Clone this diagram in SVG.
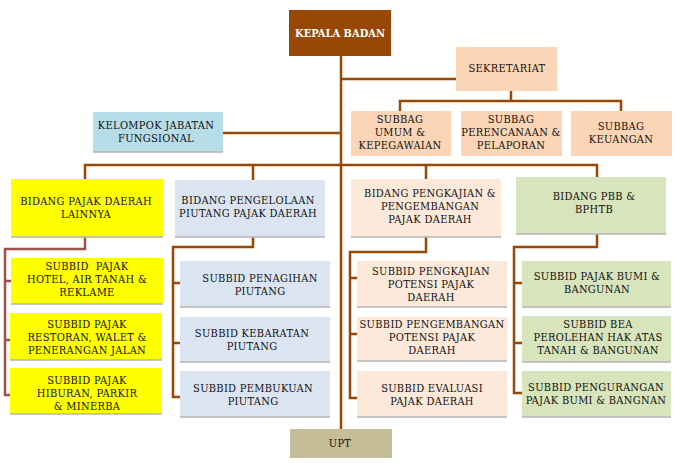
<svg xmlns="http://www.w3.org/2000/svg" width="675" height="463" viewBox="0 0 675 463">
<style>
.t{font-family:"DejaVu Serif Condensed","DejaVu Serif","Liberation Serif",serif;font-size:11px;letter-spacing:0.3px;fill:#111;text-anchor:middle;white-space:pre}
.w{fill:#fff;font-weight:bold;letter-spacing:0}
.c{fill:none;stroke:#974806;stroke-width:2.5}
.cr{fill:none;stroke:#a0504d;stroke-width:2.5}
.sh{fill:none;stroke:#b5b5b5;stroke-width:1.5}
.y{fill:#ffff00}.b{fill:#dbe5f1}.p{fill:#fde9d9}.g{fill:#d7e4bc}.o{fill:#fbd5b5}.k{fill:#b7dde8}.u{fill:#c4bd97}
</style>
<rect width="675" height="463" fill="#fff"/>
<g id="connectors">
<path class="c" d="M341 56V429"/>
<path class="c" d="M341 79H456"/>
<path class="c" d="M223 133H341"/>
<path class="c" d="M511 91V101M400 111V101H621V111"/>
<path class="c" d="M85 179V165H597V177M253 165V180M426 165V179"/>
<path class="cr" d="M85 237V249H5V395H11M5 281H11M5 340H10"/>
<path class="c" d="M253 237V247H173V397H180M173 283H180M173 343H180"/>
<path class="c" d="M426 237V252H350V398H357M350 278H357M350 334H357"/>
<path class="c" d="M597 234V247H514V393H522M514 283H522M514 343H522"/>
</g>
<g id="kepala"><rect x="289" y="10" width="102" height="46" fill="#974706"/><text class="t w" x="340" y="37">KEPALA BADAN</text></g>
<g id="sekretariat"><rect class="o" x="456" y="47" width="101" height="44"/><text class="t" x="507" y="72">SEKRETARIAT</text></g>
<g id="subbag-umum"><rect class="o" x="351" y="111" width="100" height="45"/><text class="t" x="400" y="123">SUBBAG</text><text class="t" x="400" y="136">UMUM &amp;</text><text class="t" x="400" y="149">KEPEGAWAIAN</text></g>
<g id="subbag-perencanaan"><rect class="o" x="461" y="111" width="101" height="45"/><text class="t" x="511" y="123">SUBBAG</text><text class="t" x="511" y="136">PERENCANAAN &amp;</text><text class="t" x="511" y="149">PELAPORAN</text></g>
<g id="subbag-keuangan"><rect class="o" x="571" y="111" width="101" height="45"/><text class="t" x="621" y="130">SUBBAG</text><text class="t" x="621" y="143">KEUANGAN</text></g>
<g id="kelompok"><rect class="k" x="93" y="112" width="130" height="40"/><path class="sh" d="M93 152H223"/><text class="t" x="156" y="129">KELOMPOK JABATAN</text><text class="t" x="156" y="142">FUNGSIONAL</text></g>
<g id="bidang-lainnya"><rect class="y" x="11" y="179" width="152" height="58"/><path class="sh" d="M11 237H163"/><text class="t" x="86" y="205">BIDANG PAJAK DAERAH</text><text class="t" x="86" y="218">LAINNYA</text></g>
<g id="bidang-piutang"><rect class="b" x="175" y="180" width="150" height="57"/><path class="sh" d="M175 237H325"/><text class="t" x="248" y="204">BIDANG PENGELOLAAN</text><text class="t" x="248" y="217">PIUTANG PAJAK DAERAH</text></g>
<g id="bidang-pengkajian"><rect class="p" x="351" y="179" width="150" height="58"/><path class="sh" d="M351 237H501"/><text class="t" x="430" y="197">BIDANG PENGKAJIAN &amp;</text><text class="t" x="430" y="210">PENGEMBANGAN</text><text class="t" x="430" y="223">PAJAK DAERAH</text></g>
<g id="bidang-pbb"><rect class="g" x="516" y="177" width="150" height="57"/><path class="sh" d="M516 234H666"/><text class="t" x="594" y="200">BIDANG PBB &amp;</text><text class="t" x="594" y="213">BPHTB</text></g>
<g id="subbid-hotel"><rect class="y" x="11" y="258" width="152" height="46"/><path class="sh" d="M11 304H163"/><text class="t" x="87" y="270">SUBBID  PAJAK</text><text class="t" x="87" y="283">HOTEL, AIR TANAH &amp;</text><text class="t" x="87" y="296">REKLAME</text></g>
<g id="subbid-restoran"><rect class="y" x="10" y="313" width="152" height="47"/><path class="sh" d="M10 360H162"/><text class="t" x="87" y="328">SUBBID PAJAK</text><text class="t" x="87" y="341">RESTORAN, WALET &amp;</text><text class="t" x="87" y="354">PENERANGAN JALAN</text></g>
<g id="subbid-hiburan"><rect class="y" x="10" y="368" width="152" height="46"/><path class="sh" d="M10 414H162"/><text class="t" x="87" y="384">SUBBID PAJAK</text><text class="t" x="87" y="397">HIBURAN, PARKIR</text><text class="t" x="87" y="410">&amp; MINERBA</text></g>
<g id="subbid-penagihan"><rect class="b" x="180" y="261" width="150" height="46"/><path class="sh" d="M180 307H330"/><text class="t" x="260" y="282">SUBBID PENAGIHAN</text><text class="t" x="260" y="295">PIUTANG</text></g>
<g id="subbid-kebaratan"><rect class="b" x="180" y="317" width="150" height="45"/><path class="sh" d="M180 362H330"/><text class="t" x="252" y="337">SUBBID KEBARATAN</text><text class="t" x="252" y="350">PIUTANG</text></g>
<g id="subbid-pembukuan"><rect class="b" x="180" y="371" width="150" height="46"/><path class="sh" d="M180 417H330"/><text class="t" x="253" y="392">SUBBID PEMBUKUAN</text><text class="t" x="253" y="405">PIUTANG</text></g>
<g id="subbid-pengkajian"><rect class="p" x="357" y="261" width="150" height="46"/><path class="sh" d="M357 307H507"/><text class="t" x="431" y="275">SUBBID PENGKAJIAN</text><text class="t" x="431" y="288">POTENSI PAJAK</text><text class="t" x="431" y="301">DAERAH</text></g>
<g id="subbid-pengembangan"><rect class="p" x="357" y="317" width="150" height="44"/><path class="sh" d="M357 361H507"/><text class="t" x="432" y="328">SUBBID PENGEMBANGAN</text><text class="t" x="432" y="341">POTENSI PAJAK</text><text class="t" x="432" y="354">DAERAH</text></g>
<g id="subbid-evaluasi"><rect class="p" x="357" y="371" width="150" height="46"/><path class="sh" d="M357 417H507"/><text class="t" x="432" y="392">SUBBID EVALUASI</text><text class="t" x="432" y="405">PAJAK DAERAH</text></g>
<g id="subbid-pbb"><rect class="g" x="522" y="261" width="149" height="46"/><path class="sh" d="M522 307H671"/><text class="t" x="597" y="280">SUBBID PAJAK BUMI &amp;</text><text class="t" x="597" y="293">BANGUNAN</text></g>
<g id="subbid-bea"><rect class="g" x="522" y="316" width="149" height="46"/><path class="sh" d="M522 362H671"/><text class="t" x="598" y="328">SUBBID BEA</text><text class="t" x="598" y="341">PEROLEHAN HAK ATAS</text><text class="t" x="598" y="354">TANAH &amp; BANGUNAN</text></g>
<g id="subbid-pengurangan"><rect class="g" x="522" y="371" width="149" height="46"/><path class="sh" d="M522 417H671"/><text class="t" x="596" y="391">SUBBID PENGURANGAN</text><text class="t" x="596" y="404">PAJAK BUMI &amp; BANGNAN</text></g>
<g id="upt"><rect class="u" x="290" y="429" width="102" height="29"/><text class="t" x="340" y="447">UPT</text></g>
</svg>
